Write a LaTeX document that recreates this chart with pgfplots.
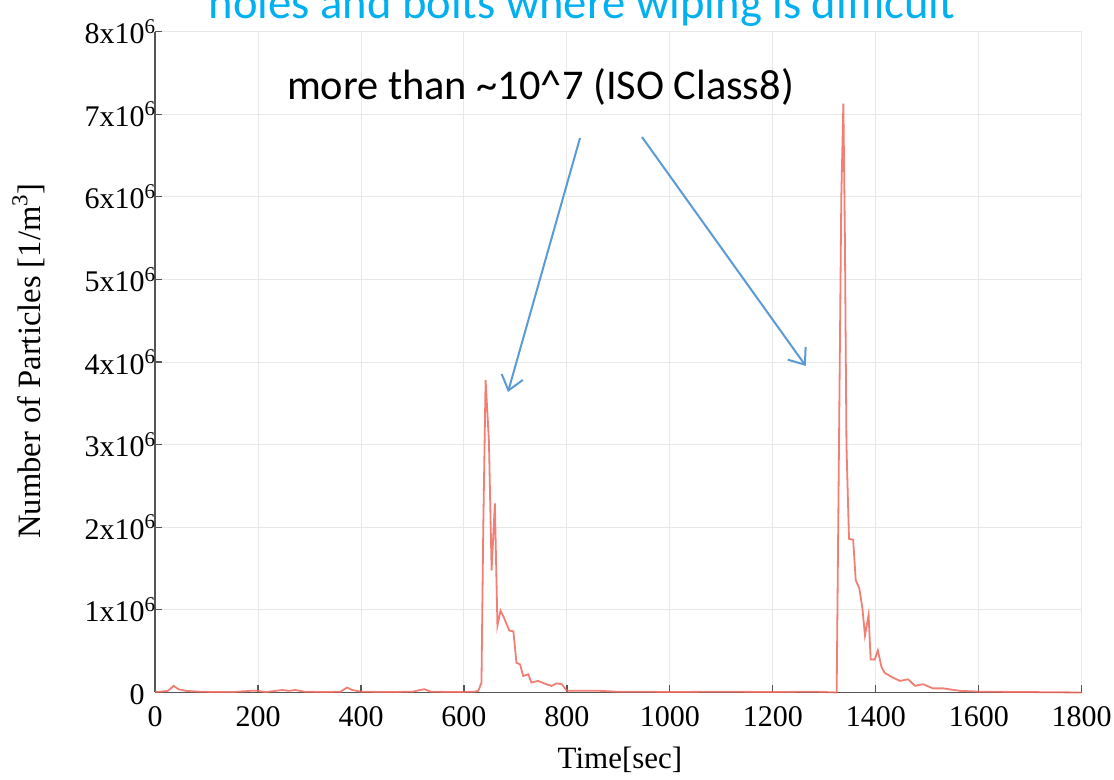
\documentclass[border=0pt]{standalone}
\usepackage{fontspec}
\setmainfont{Liberation Serif}
\newfontfamily\calibri{Carlito}
\usepackage{pgfplots}
\pgfplotsset{compat=1.18}
\usetikzlibrary{arrows.meta}

\definecolor{trace}{RGB}{238,104,92}
\definecolor{gridgray}{RGB}{232,232,232}
\definecolor{axisgray}{RGB}{85,85,85}
\definecolor{titlecyan}{RGB}{0,176,240}
\definecolor{arrowblue}{RGB}{91,155,213}

% time [s], particles [10^6 / m^3]
\pgfplotstableread{
t n
0 0.01
10 0.01
25 0.02
36 0.08
45 0.04
59 0.02
87 0.01
120 0.005
150 0.005
185 0.02
199 0.02
215 0.005
247 0.03
260 0.02
272 0.03
290 0.01
330 0.005
360 0.01
373 0.06
383 0.03
400 0.01
450 0.005
500 0.01
515 0.03
523 0.04
535 0.01
580 0.005
620 0.01
628 0.02
634 0.12
637.5 2.0
642 3.78
648.5 3.04
653.7 1.48
660 2.29
665 0.81
671 0.99
676 0.93
688 0.75
696 0.74
702 0.36
709 0.34
715 0.20
725 0.22
731 0.12
744 0.14
760 0.10
770 0.08
780 0.11
790 0.10
800 0.02
825 0.02
864 0.02
896 0.01
950 0.01
1000 0.005
1100 0.01
1200 0.005
1280 0.01
1324 0.0
1333 6.0
1337 7.13
1340 5.5
1343 3.0
1346 2.3
1348 1.86
1356 1.85
1361 1.36
1368 1.26
1374 1.02
1379 0.69
1386 0.94
1390 0.40
1398 0.40
1404 0.51
1411 0.31
1417 0.24
1430 0.19
1447 0.14
1463 0.16
1476 0.08
1492 0.10
1511 0.05
1531 0.05
1563 0.02
1602 0.01
1700 0.005
1800 0.0
}\particles

\begin{document}
\begin{tikzpicture}
\useasboundingbox (0,0) rectangle (557pt,390pt);
\clip (0,0) rectangle (557pt,390pt);
\begin{axis}[
    at={(77.55pt,43.75pt)}, anchor=south west,
    scale only axis, width=463.3pt, height=330.4pt,
    xmin=0, xmax=1800, ymin=0, ymax=8,
    axis lines*=left,
    axis line style={axisgray, line width=0.8pt},
    xtick={0,200,...,1800},
    ytick={0,1,...,8},
    yticklabels={0\textsuperscript{\phantom{6}},1x10\textsuperscript{6},2x10\textsuperscript{6},3x10\textsuperscript{6},4x10\textsuperscript{6},5x10\textsuperscript{6},6x10\textsuperscript{6},7x10\textsuperscript{6},8x10\textsuperscript{6}},
    /pgf/number format/assume math mode=true,
    /pgf/number format/1000 sep={},
    tick align=inside,
    major tick length=3.5pt,
    tick style={axisgray, line width=0.6pt},
    tick label style={font=\fontsize{15}{18}\selectfont},
    xticklabel style={yshift=-3.6pt},
    yticklabel style={xshift=4pt},
    grid=major,
    grid style={gridgray, line width=0.5pt},
    clip=false,
]
\addplot[trace, line width=0.9pt, opacity=0.85] table[x=t, y=n] {\particles};
\draw[arrowblue, line width=1pt, -{Straight Barb[length=7pt, width=11pt]}]
    (axis cs:825.4,6.713) -- (axis cs:685.5,3.638);
\draw[arrowblue, line width=1pt, -{Straight Barb[length=7pt, width=11pt]}]
    (axis cs:945.8,6.725) -- (axis cs:1264.0,3.953);
\end{axis}
\node[rotate=90, anchor=base, font=\fontsize{16.3}{19}\selectfont]
    at (20pt,209.5pt) {Number of Particles [1/m\textsuperscript{3}]};
\node[anchor=base, font=\fontsize{15.5}{18}\selectfont]
    at (310pt,5.85pt) {Time[sec]};
\node[anchor=base west, font=\calibri\fontsize{21.2}{25}\selectfont]
    at (140pt,340pt) {more than \textasciitilde10\textasciicircum7 (ISO Class8)};
\fill[white] (0,380.3pt) rectangle (557pt,390pt);
\node[anchor=base, text=titlecyan, font=\calibri\fontsize{23.3}{28}\selectfont]
    at (291pt,380.85pt) {holes and bolts where wiping is difficult};
\end{tikzpicture}
\end{document}
